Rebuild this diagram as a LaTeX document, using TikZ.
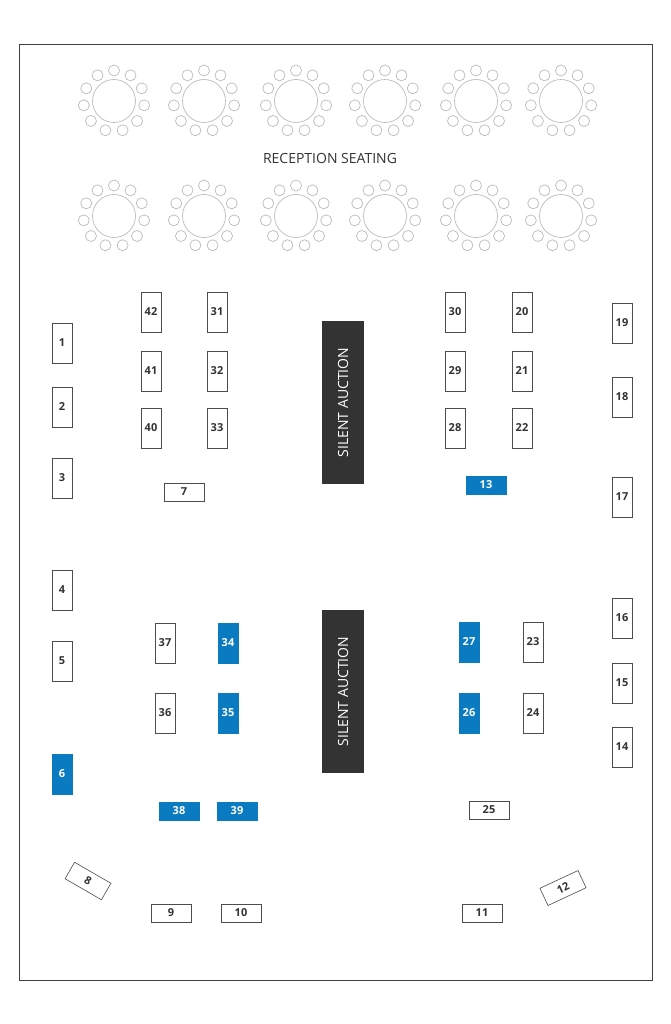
\documentclass[tikz,border=0pt]{standalone}
\usepackage{fontspec}
\setmainfont{Open Sans}
\definecolor{booblue}{HTML}{0A7BC1}
\definecolor{dark}{HTML}{333333}
\definecolor{lgray}{HTML}{BBBBBB}
\begin{document}
\begin{tikzpicture}[x=1pt,y=-1pt,
  vb/.style={draw=black!70,line width=0.6pt,fill=white,minimum width=20pt,minimum height=40pt,inner sep=0pt,font=\bfseries\fontsize{11}{13}\selectfont,text=dark},
  hb/.style={vb,minimum width=40pt,minimum height=18pt},
  blue/.style={fill=booblue,draw=booblue,text=white},
  auction/.style={fill=dark,draw=none,minimum width=42pt,minimum height=163pt,inner sep=0pt},
  atext/.style={text=white,font=\fontsize{14}{16}\selectfont,rotate=90}]
\useasboundingbox (0,0) rectangle (671,1024);
\fill[white] (0,0) rectangle (671,1024);
\draw[black!75,line width=0.8pt] (19,44) rectangle (652,980);
% round tables
\foreach \y in {101,216}{
 \foreach \x in {114,204,296,385,476,561}{
  \draw[lgray,line width=0.7pt] (\x,\y) circle (21.5);
  \foreach \k in {0,...,10}{
   \draw[lgray,line width=0.7pt] ({\x+30.5*cos(90+\k*32.727)},{\y-30.5*sin(90+\k*32.727)}) circle (5.5);
  }}}
\node[font=\fontsize{14}{16}\selectfont,text=dark] (rs) at (330,158) {RECEPTION SEATING};
% silent auction
\node[auction] (sa1) at (343,402.5) {};
\node[atext] at (sa1) {SILENT AUCTION};
\node[auction] (sa2) at (343,691.5) {};
\node[atext] at (sa2) {SILENT AUCTION};
% booths
\node[vb] (b1) at (62,343) {1};
\node[vb] (b2) at (62,407) {2};
\node[vb] (b3) at (62,478) {3};
\node[vb] (b4) at (62,590) {4};
\node[vb] (b5) at (62,661) {5};
\node[vb,blue] (b6) at (62,774) {6};
\node[vb] (b42) at (151,312) {42};
\node[vb] (b41) at (151,371) {41};
\node[vb] (b40) at (151,428) {40};
\node[vb] (b31) at (217,312) {31};
\node[vb] (b32) at (217,371) {32};
\node[vb] (b33) at (217,428) {33};
\node[hb] (b7) at (184,492) {7};
\node[vb] (b30) at (455,312) {30};
\node[vb] (b29) at (455,371) {29};
\node[vb] (b28) at (455,428) {28};
\node[vb] (b20) at (522,312) {20};
\node[vb] (b21) at (522,371) {21};
\node[vb] (b22) at (522,428) {22};
\node[hb,blue] (b13) at (486,485) {13};
\node[vb] (b19) at (622,323) {19};
\node[vb] (b18) at (622,397) {18};
\node[vb] (b17) at (622,497) {17};
\node[vb] (b16) at (622,618) {16};
\node[vb] (b15) at (622,683) {15};
\node[vb] (b14) at (622,747) {14};
\node[vb] (b37) at (165,643) {37};
\node[vb] (b36) at (165,713) {36};
\node[vb,blue] (b34) at (228,643) {34};
\node[vb,blue] (b35) at (228,713) {35};
\node[vb,blue] (b27) at (469,642) {27};
\node[vb,blue] (b26) at (469,713) {26};
\node[vb] (b23) at (533,642) {23};
\node[vb] (b24) at (533,713) {24};
\node[hb,blue] (b38) at (179,811) {38};
\node[hb,blue] (b39) at (237,811) {39};
\node[hb] (b25) at (489,810) {25};
\node[hb] (b9) at (171,913) {9};
\node[hb] (b10) at (241,913) {10};
\node[hb] (b11) at (482,913) {11};
\node[hb,minimum width=42pt,minimum height=19pt,rotate=-30] (b8) at (88,881) {8};
\node[hb,minimum width=42pt,minimum height=19pt,rotate=25] (b12) at (563,888) {12};
\end{tikzpicture}
\end{document}
